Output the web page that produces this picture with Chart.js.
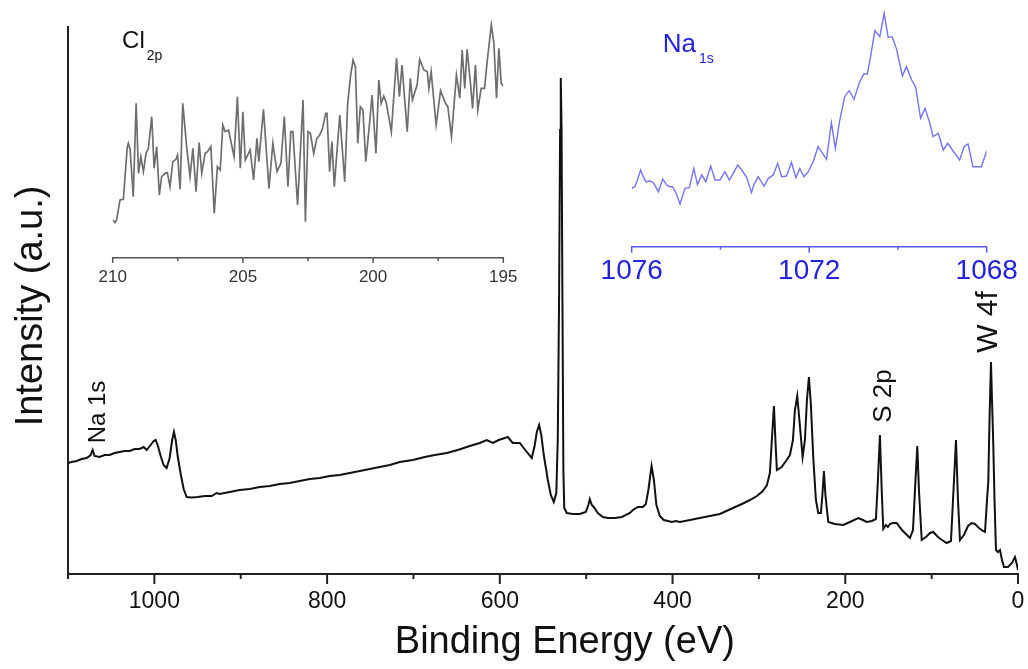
<!DOCTYPE html>
<html>
<head>
<meta charset="utf-8">
<script src="https://cdn.jsdelivr.net/npm/chart.js@4.4.1/dist/chart.umd.min.js"></script>
<style>
  html, body { margin: 0; padding: 0; background: #fff; }
  #wrap { position: relative; width: 1028px; height: 669px; }
  canvas { position: absolute; top: 0; }
  #mainChart { left: 0; }
  #clChart { left: 82px; }
  #naChart { left: 596px; }
</style>
</head>
<body>
<div id="wrap">
  <canvas id="mainChart" width="1028" height="669"></canvas>
  <canvas id="clChart" width="452" height="290"></canvas>
  <canvas id="naChart" width="426" height="290"></canvas>
</div>
<script>
// survey spectrum (binding energy in eV, intensity in a.u.)
const mainEnergy = [1100.0,1095.8,1090.0,1084.2,1078.4,1073.8,1071.5,1069.2,1063.4,1057.6,
  1051.8,1046.0,1040.2,1034.4,1028.6,1022.8,1017.0,1012.4,1008.9,1004.3,
  1000.8,998.5,996.2,992.7,989.3,985.8,982.3,979.4,977.3,975.3,
  973.0,969.5,966.1,962.6,956.8,949.9,941.7,933.6,927.8,924.4,
  912.8,901.2,889.6,878.0,866.4,854.9,843.3,831.7,820.1,808.5,
  796.9,785.4,773.8,762.2,750.6,739.0,727.4,715.9,700.8,686.9,
  675.3,661.4,648.7,634.8,623.2,615.1,608.1,601.2,594.2,590.8,
  585.0,576.9,568.7,563.0,559.5,557.2,554.5,552.0,549.1,544.4,
  541.0,537.5,534.6,532.9,531.4,530.2,529.4,528.5,527.5,526.4,
  525.4,522.4,515.5,507.4,500.4,497.5,495.8,493.5,491.2,486.5,
  480.7,474.9,466.8,458.7,449.4,445.9,440.1,434.4,430.9,428.0,
  424.3,421.6,418.7,414.7,410.1,405.4,400.8,396.2,391.5,379.9,
  368.4,356.8,345.2,330.1,319.7,310.4,302.3,295.4,290.7,287.3,
  285.0,282.6,280.9,279.2,273.7,268.7,264.1,260.6,258.3,255.6,
  253.1,249.4,246.7,244.4,242.1,239.8,237.1,234.0,231.3,228.2,
  226.5,224.7,223.0,219.7,212.0,202.4,194.6,185.0,179.6,175.3,
  169.1,164.5,162.2,159.9,157.8,156.0,152.9,150.6,148.3,144.8,
  140.5,134.4,128.6,125.1,121.6,118.7,116.6,114.7,111.5,106.6,
  101.9,98.1,92.7,88.0,82.6,77.6,74.1,71.8,69.5,67.2,
  62.6,57.9,53.6,49.8,45.2,40.5,38.2,35.9,34.4,33.0,
  31.3,30.1,28.6,27.2,25.5,23.2,20.9,18.5,16.2,11.6,
  7.0,3.5,1.2,0];
const mainIntensity = [22.2,22.4,22.6,23.0,23.2,23.8,24.8,23.6,23.4,23.8,
  23.8,24.2,24.4,24.6,24.6,25.0,25.0,25.4,24.8,25.8,
  26.6,26.8,25.8,23.6,21.8,21.2,23.2,26.8,28.4,26.8,
  23.6,20.0,17.0,15.4,15.3,15.4,15.6,15.6,16.2,16.0,
  16.4,16.8,17.0,17.4,17.6,18.0,18.2,18.6,19.0,19.2,
  19.6,19.8,20.2,20.6,21.0,21.4,21.8,22.4,22.8,23.4,
  23.8,24.2,24.8,25.6,26.2,26.8,26.2,26.8,27.2,27.4,
  26.2,26.2,24.4,23.2,25.8,28.4,29.8,27.8,23.8,18.8,
  15.8,14.4,16.2,26.8,54.8,88.8,99.2,88.8,54.8,20.8,
  13.2,12.2,12.0,12.0,12.4,13.8,15.0,13.8,13.4,12.2,
  11.4,11.2,11.2,11.4,12.2,12.8,13.4,13.4,14.0,16.8,
  21.6,18.8,13.8,11.6,10.8,10.6,10.4,10.6,10.4,10.8,
  11.2,11.6,12.0,13.2,14.0,14.8,15.6,16.6,17.8,20.2,
  26.8,33.6,26.8,20.8,21.4,22.6,23.8,26.8,32.8,35.6,
  30.8,23.4,26.8,34.8,39.4,33.8,23.4,14.8,12.2,12.2,
  15.8,20.6,15.8,10.4,10.0,9.8,10.4,11.2,10.8,10.4,
  10.6,11.0,18.8,27.8,16.8,9.0,9.8,9.4,10.0,10.2,
  10.2,8.8,7.8,7.2,8.8,18.8,25.6,16.8,6.8,7.4,
  8.2,8.4,7.4,6.8,6.2,6.6,18.8,26.8,14.8,6.8,
  7.8,9.6,10.2,10.0,9.2,8.6,8.4,14.8,18.4,30.8,
  42.4,34.8,25.8,14.8,4.8,4.4,4.8,2.8,1.4,1.4,
  2.2,3.4,1.8,0.8];
const mainTickValues = [1100,1000,900,800,700,600,500,400,300,200,100,0];
const mainLabelValues = [1000,800,600,400,200,0];

// Cl 2p inset
const clEnergy = [210.0,209.91,209.85,209.72,209.59,209.44,209.40,209.33,209.21,209.10,
  209.01,208.92,208.82,208.72,208.63,208.50,208.41,208.31,208.21,208.12,
  207.99,207.90,207.80,207.69,207.57,207.51,207.41,207.31,207.16,207.03,
  206.92,206.80,206.68,206.58,206.45,206.36,206.23,206.10,205.98,205.87,
  205.77,205.68,205.55,205.34,205.21,205.10,205.00,204.91,204.72,204.59,
  204.46,204.39,204.21,204.00,203.85,203.69,203.54,203.41,203.27,203.16,
  203.08,202.90,202.69,202.60,202.50,202.41,202.28,202.16,202.05,201.94,
  201.82,201.77,201.67,201.58,201.49,201.28,201.09,200.98,200.87,200.77,
  200.68,200.59,200.49,200.39,200.28,200.13,200.04,199.89,199.78,199.69,
  199.59,199.49,199.30,199.10,198.99,198.89,198.69,198.57,198.49,198.31,
  198.21,198.05,197.92,197.86,197.77,197.58,197.41,197.22,197.13,196.99,
  196.80,196.67,196.58,196.48,196.39,196.26,196.18,196.07,195.98,195.85,
  195.72,195.62,195.46,195.36,195.26,195.17,195.08,195.0];
const clIntensity = [14.0,13.2,14.0,20.0,20.2,36.0,37.0,35.0,21.0,49.0,
  28.0,33.0,28.5,34.0,35.5,45.0,29.5,36.0,21.5,27.0,
  28.0,28.2,24.0,31.5,32.2,33.5,23.2,49.0,36.0,27.0,
  35.5,22.5,37.2,28.0,34.0,34.5,36.0,16.0,30.0,29.0,
  42.5,40.5,41.0,33.0,51.0,29.5,46.5,32.0,35.0,26.0,
  38.5,31.5,47.2,23.5,37.0,28.5,31.0,45.0,24.0,40.5,
  40.5,18.5,50.0,13.5,40.5,40.0,34.0,38.5,39.5,41.5,
  46.0,46.0,28.5,37.5,24.0,45.5,25.5,48.5,57.0,62.0,
  60.0,37.0,48.0,47.0,31.5,43.5,51.5,34.0,56.0,49.0,
  51.2,49.0,40.5,62.5,51.0,60.5,40.5,56.5,50.0,54.5,
  62.2,59.0,58.5,53.5,58.5,42.5,52.8,49.0,48.0,39.0,
  57.5,50.5,65.0,53.5,65.2,55.0,47.5,60.5,47.0,53.5,
  53.5,61.5,72.5,67.0,50.5,65.5,55.0,54.2];
const clTickValues = [210,207.5,205,202.5,200,197.5,195];
const clLabelValues = [210,205,200,195];

// Na 1s inset
const naEnergy = [1076.00,1075.93,1075.87,1075.80,1075.74,1075.68,1075.59,1075.51,1075.40,1075.30,
  1075.21,1075.14,1075.08,1075.00,1074.91,1074.80,1074.70,1074.60,1074.52,1074.42,
  1074.33,1074.22,1074.12,1074.01,1073.90,1073.80,1073.71,1073.61,1073.52,1073.41,
  1073.30,1073.25,1073.15,1073.02,1072.92,1072.81,1072.71,1072.62,1072.51,1072.40,
  1072.30,1072.21,1072.12,1072.02,1071.91,1071.80,1071.70,1071.61,1071.50,1071.41,
  1071.31,1071.20,1071.10,1070.99,1070.87,1070.77,1070.69,1070.62,1070.52,1070.41,
  1070.31,1070.22,1070.13,1070.03,1069.90,1069.81,1069.69,1069.60,1069.49,1069.39,
  1069.28,1069.21,1069.09,1068.98,1068.88,1068.61,1068.51,1068.42,1068.31,1068.12,
  1068.00];
const naIntensity = [23.5,24.0,26.0,29.0,27.0,25.5,25.7,25.2,22.5,26.3,
  24.5,24.0,24.0,22.0,18.8,23.5,23.7,29.5,24.7,27.5,
  25.5,30.2,26.0,26.0,28.5,26.0,28.0,30.5,29.0,26.8,
  22.2,24.5,27.0,24.2,26.5,27.5,31.0,27.0,27.2,31.3,
  26.7,29.5,27.0,28.5,31.5,36.0,34.0,32.2,43.2,35.5,
  44.0,51.0,52.8,50.2,55.2,57.8,57.8,62.8,70.8,69.0,
  76.0,68.8,69.0,65.2,57.2,60.0,56.0,53.8,44.5,47.5,
  43.0,39.0,40.0,35.0,37.0,32.0,36.0,36.8,30.0,30.0,
  34.7];
const naTickValues = [1076,1074,1072,1070,1068];
const naLabelValues = [1076,1072,1068];

const FONT = "'Liberation Sans', Arial, Helvetica, sans-serif";
const BLUE = '#2323dc';

// peak labels, placed in data coordinates
const mainNotes = [
  { text: 'Na 1s', x: 1064.5, y: 32.4, rotate: -Math.PI / 2, align: 'center', baseline: 'middle', font: '24px ' + FONT, color: '#111' },
  { text: 'S 2p', x: 155.2, y: 35.6, rotate: -Math.PI / 2, align: 'center', baseline: 'middle', font: '26px ' + FONT, color: '#111' },
  { text: 'W 4f', x: 33.6, y: 50.4, rotate: -Math.PI / 2, align: 'center', baseline: 'middle', font: '30px ' + FONT, color: '#111' }
];
const clNotes = [
  { text: 'Cl', sub: '2p', x: 209.64, y: 65.6, font: '24px ' + FONT, subFont: '14px ' + FONT, subDx: 2, subDy: 12, color: '#111' }
];
const naNotes = [
  { text: 'Na', sub: '1s', x: 1075.3, y: 64.4, font: '26px ' + FONT, subFont: '14px ' + FONT, subDx: 3, subDy: 11, color: BLUE }
];

function pairs(xs, ys) {
  return xs.map((e, i) => ({ x: e, y: ys[i] }));
}

// keep the chart area where the layout padding puts it
function noEdgePadding(s) {
  s.paddingLeft = 0;
  s.paddingRight = 0;
}

// tick marks drawn from the x scale, long for labelled ticks, short for others
function tickMarks(labels, major, minor, color, width) {
  return {
    id: 'tickMarks',
    afterDraw(chart) {
      const scale = chart.scales.x;
      const ctx = chart.ctx;
      const y0 = chart.chartArea.bottom;
      ctx.save();
      ctx.strokeStyle = color;
      ctx.lineWidth = width;
      scale.ticks.forEach(t => {
        const px = scale.getPixelForValue(t.value);
        const len = labels.includes(t.value) ? major : minor;
        ctx.beginPath();
        ctx.moveTo(px, y0);
        ctx.lineTo(px, y0 + len);
        ctx.stroke();
      });
      ctx.restore();
    }
  };
}

function notesPlugin(items) {
  return {
    id: 'notes',
    afterDatasetsDraw(chart) {
      const ctx = chart.ctx;
      const xs = chart.scales.x, ys = chart.scales.y;
      items.forEach(n => {
        ctx.save();
        ctx.translate(xs.getPixelForValue(n.x), ys.getPixelForValue(n.y));
        if (n.rotate) ctx.rotate(n.rotate);
        ctx.fillStyle = n.color;
        ctx.font = n.font;
        ctx.textAlign = n.align || 'left';
        ctx.textBaseline = n.baseline || 'alphabetic';
        ctx.fillText(n.text, 0, 0);
        if (n.sub) {
          const w = ctx.measureText(n.text).width;
          ctx.font = n.subFont;
          ctx.fillText(n.sub, w + n.subDx, n.subDy);
        }
        ctx.restore();
      });
    }
  };
}

// axis titles of the survey plot
const axisTitles = {
  id: 'axisTitles',
  afterDraw(chart) {
    const ctx = chart.ctx;
    const a = chart.chartArea;
    ctx.save();
    ctx.fillStyle = '#111';
    ctx.font = '38px ' + FONT;
    ctx.textAlign = 'center';
    ctx.textBaseline = 'middle';
    ctx.fillText('Binding Energy (eV)', a.left + (a.right - a.left) * 0.523, 643);
    ctx.translate(32, a.top + (a.bottom - a.top) * 0.51);
    ctx.rotate(-Math.PI / 2);
    ctx.fillText('Intensity (a.u.)', 0, 0);
    ctx.restore();
  }
};

const common = {
  responsive: false,
  animation: false,
  devicePixelRatio: 1,
  events: [],
  plugins: { legend: { display: false }, tooltip: { enabled: false } }
};

// main survey
new Chart(document.getElementById('mainChart'), {
  type: 'line',
  data: {
    datasets: [{
      data: pairs(mainEnergy, mainIntensity),
      borderColor: '#111',
      borderWidth: 2,
      pointRadius: 0,
      tension: 0,
      fill: false
    }]
  },
  options: {
    ...common,
    layout: { padding: { left: 10, right: 10, top: 27, bottom: 0 } },
    scales: {
      x: {
        type: 'linear', reverse: true, min: 0, max: 1100,
        afterBuildTicks: s => { s.ticks = mainTickValues.map(v => ({ value: v })); },
        afterFit: s => { s.height = 95; noEdgePadding(s); },
        grid: { display: false, drawTicks: false },
        border: { display: true, color: '#222', width: 2 },
        ticks: {
          autoSkip: false, maxRotation: 0, padding: 14, color: '#111',
          font: { family: FONT, size: 23 },
          callback: v => mainLabelValues.includes(v) ? String(v) : ''
        }
      },
      y: {
        min: 0, max: 109.4,
        afterFit: s => { s.width = 58; },
        grid: { display: false, drawTicks: false },
        border: { display: true, color: '#222', width: 2 },
        ticks: { display: false }
      }
    }
  },
  plugins: [tickMarks(mainLabelValues, 10, 5, '#222', 2), notesPlugin(mainNotes), axisTitles]
});

// Cl 2p inset
new Chart(document.getElementById('clChart'), {
  type: 'line',
  data: {
    datasets: [{
      data: pairs(clEnergy, clIntensity),
      borderColor: '#6e6e6e',
      borderWidth: 1.7,
      pointRadius: 0,
      tension: 0,
      fill: false
    }]
  },
  options: {
    ...common,
    layout: { padding: { left: 30.7, right: 30.7, top: 10, bottom: 0 } },
    scales: {
      x: {
        type: 'linear', reverse: true, min: 195, max: 210,
        afterBuildTicks: s => { s.ticks = clTickValues.map(v => ({ value: v })); },
        afterFit: s => { s.height = 32; noEdgePadding(s); },
        grid: { display: false, drawTicks: false },
        border: { display: true, color: '#555', width: 1.5 },
        ticks: {
          autoSkip: false, maxRotation: 0, padding: 9, color: '#333',
          font: { family: FONT, size: 17 },
          callback: v => clLabelValues.includes(v) ? String(v) : ''
        }
      },
      y: { display: false, min: 2.6, max: 77 }
    }
  },
  plugins: [tickMarks(clLabelValues, 5, 3, '#555', 1.5), notesPlugin(clNotes)]
});

// Na 1s inset
new Chart(document.getElementById('naChart'), {
  type: 'line',
  data: {
    datasets: [{
      data: pairs(naEnergy, naIntensity),
      borderColor: '#7474f0',
      borderWidth: 1.4,
      pointRadius: 0,
      tension: 0,
      fill: false
    }]
  },
  options: {
    ...common,
    layout: { padding: { left: 35.7, right: 35.3, top: 10, bottom: 0 } },
    scales: {
      x: {
        type: 'linear', reverse: true, min: 1068, max: 1076,
        afterBuildTicks: s => { s.ticks = naTickValues.map(v => ({ value: v })); },
        afterFit: s => { s.height = 43.3; noEdgePadding(s); },
        grid: { display: false, drawTicks: false },
        border: { display: true, color: '#5a5aea', width: 1.5 },
        ticks: {
          autoSkip: false, maxRotation: 0, padding: 8, color: BLUE,
          font: { family: FONT, size: 28 },
          callback: v => naLabelValues.includes(v) ? String(v) : ''
        }
      },
      y: { display: false, min: 6, max: 77 }
    }
  },
  plugins: [tickMarks(naLabelValues, 6, 3, '#5a5aea', 1.5), notesPlugin(naNotes)]
});
</script>
</body>
</html>
